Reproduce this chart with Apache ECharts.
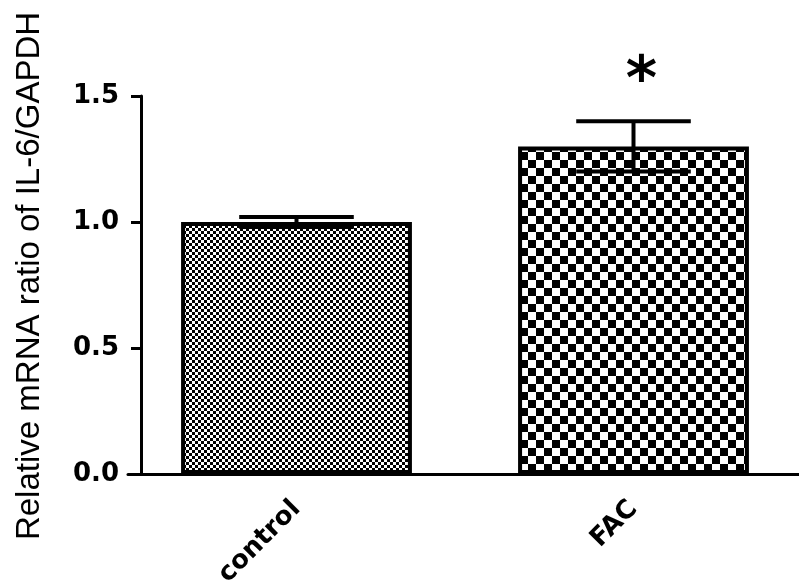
<!DOCTYPE html>
<html>
<head>
<meta charset="utf-8">
<script src="https://cdn.jsdelivr.net/npm/echarts@6/dist/echarts.min.js"></script>
<style>html,body{margin:0;padding:0;background:#fff;}#c{width:799px;height:582px;}</style>
</head>
<body>
<div id="c"></div>
<script>
// ---- data ----
const categories = ['control', 'FAC'];
const means = [1.0, 1.3];
const errors = [0.02, 0.1];
const marks = ['', '*'];
const yMin = 0, yMax = 1.5, yStep = 0.5;
const yTitle = 'Relative mRNA ratio of IL-6/GAPDH';

// ---- styles ----
function checker(size) {
  const cv = document.createElement('canvas');
  cv.width = cv.height = size * 2;
  const ctx = cv.getContext('2d');
  ctx.fillStyle = '#fff';
  ctx.fillRect(0, 0, size * 2, size * 2);
  ctx.fillStyle = '#000';
  ctx.fillRect(0, 0, size, size);
  ctx.fillRect(size, size, size, size);
  return cv;
}
const patterns = [
  { image: checker(3), repeat: 'repeat' },
  { image: checker(8), repeat: 'repeat' }
];

const chart = echarts.init(document.getElementById('c'));
chart.setOption({
  animation: false,
  backgroundColor: '#fff',
  grid: { left: 128, right: -3, top: 96, bottom: 108, containLabel: false, outerBoundsMode: 'none' },
  graphic: [{
    type: 'text',
    rotation: Math.PI / 2,
    x: 30, y: 276,
    style: { text: yTitle, font: '33px "Liberation Sans", Arial, sans-serif', fill: '#000', textAlign: 'center', textVerticalAlign: 'middle' }
  }],
  xAxis: {
    type: 'category',
    data: categories,
    axisLine: { lineStyle: { color: '#000', width: 3 } },
    axisTick: { alignWithLabel: true, length: 10, lineStyle: { color: '#000', width: 3 } },
    axisLabel: { rotate: 45, margin: 31, color: '#000', fontFamily: 'DejaVu Sans', fontWeight: 'bold', fontSize: 26 }
  },
  yAxis: {
    type: 'value',
    min: yMin, max: yMax, interval: yStep,
    offset: -13,
    axisLine: { show: true, lineStyle: { color: '#000', width: 3 } },
    axisTick: { show: true, length: 10, lineStyle: { color: '#000', width: 3 } },
    splitLine: { show: false },
    axisLabel: { formatter: v => v.toFixed(1), margin: 22, color: '#000', fontFamily: 'DejaVu Sans', fontWeight: 'bold', fontSize: 26 }
  },
  series: [
    {
      type: 'bar',
      barWidth: '68.5%',
      data: means.map((v, i) => ({ value: v, itemStyle: { color: patterns[i] } })),
      itemStyle: { borderColor: '#000', borderWidth: 4 },
      z: 2
    },
    {
      type: 'custom',
      z: 5,
      data: categories.map((c, i) => [i, means[i] - errors[i], means[i] + errors[i], marks[i]]),
      renderItem: function (params, api) {
        const x = api.value(0);
        const lo = api.coord([x, api.value(1)]);
        const hi = api.coord([x, api.value(2)]);
        const half = api.size([1, 0])[0] * 0.17;
        const ls = { stroke: '#000', lineWidth: 4 };
        const children = [
          { type: 'line', shape: { x1: hi[0], y1: hi[1], x2: lo[0], y2: lo[1] }, style: ls },
          { type: 'line', shape: { x1: hi[0] - half, y1: hi[1], x2: hi[0] + half, y2: hi[1] }, style: ls },
          { type: 'line', shape: { x1: lo[0] - half, y1: lo[1], x2: lo[0] + half, y2: lo[1] }, style: ls }
        ];
        const m = marks[params.dataIndex];
        if (m) {
          children.push({ type: 'text', x: hi[0] + 8, y: hi[1] - 8,
            style: { text: m, font: 'bold 60px "DejaVu Sans", sans-serif', fill: '#000', textAlign: 'center', textVerticalAlign: 'bottom' } });
        }
        return { type: 'group', children: children };
      }
    }
  ]
});
</script>
</body>
</html>
